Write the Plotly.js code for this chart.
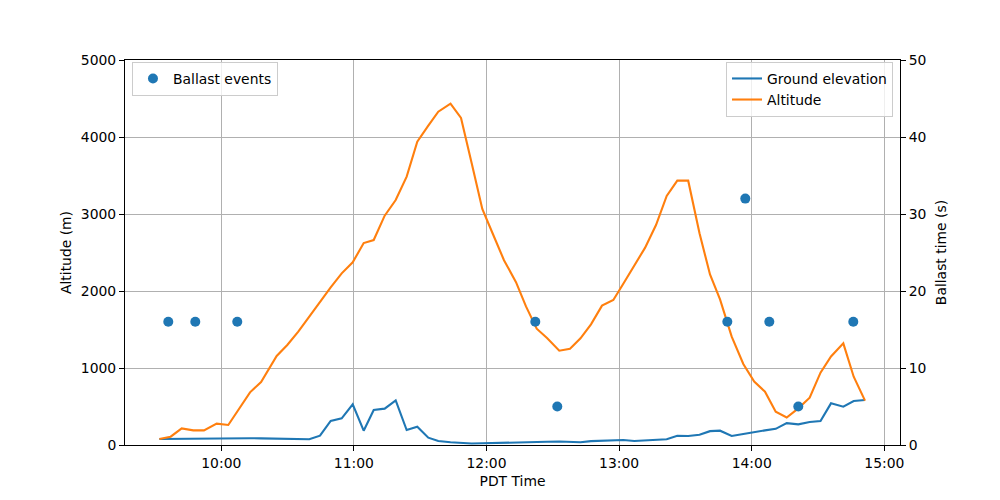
<!DOCTYPE html>
<html>
<head>
<meta charset="utf-8">
<script src="https://cdn.plot.ly/plotly-3.0.1.min.js"></script>
<style>
  html, body { margin: 0; padding: 0; background: #fff; }
  #chart { width: 1000px; height: 500px; }
</style>
</head>
<body>
<div id="chart"></div>
<script>
const day = '2023-06-10';

const times = [
    '09:32:00', '09:37:05', '09:42:05', '09:47:20', '09:52:10', '09:57:55',
    '10:03:10', '10:08:08', '10:13:00', '10:18:00', '10:25:04', '10:29:52',
    '10:34:50', '10:39:49', '10:44:40', '10:49:30', '10:54:29', '10:59:28',
    '11:04:26', '11:08:58', '11:13:56', '11:18:55', '11:23:53', '11:28:41',
    '11:33:40', '11:38:11', '11:43:43', '11:48:28', '11:53:18', '11:58:06',
    '12:03:05', '12:07:55', '12:13:21', '12:17:52', '12:22:43', '12:27:23',
    '12:32:56', '12:37:47', '12:42:32', '12:47:17', '12:52:16', '12:57:23',
    '13:01:54', '13:06:53', '13:11:43', '13:16:42', '13:21:32', '13:26:20',
    '13:31:16', '13:36:23', '13:41:08', '13:45:40', '13:50:57', '13:56:12',
    '14:01:08', '14:06:01', '14:10:52', '14:15:50', '14:21:05', '14:26:14',
    '14:31:08', '14:35:53', '14:41:27', '14:46:09', '14:51:16'
];

const groundElevation = [
    78, 80, 82, 87, 88, 88,
    90, 88, 88, 86, 82, 76,
    74, 74, 121, 312, 346, 528,
    186, 455, 472, 580, 195, 238,
    95, 52, 35, 26, 20, 22,
    24, 26, 28, 30, 35, 42,
    46, 45, 35, 50, 55, 62,
    65, 52, 62, 65, 74, 121,
    117, 132, 180, 186, 117, 143,
    170, 190, 210, 284, 268, 299,
    312, 541, 498, 571, 584
];

const altitude = [
    78, 108, 216, 190, 190, 277,
    260, 472, 684, 818, 1156, 1299,
    1472, 1667, 1861, 2048, 2229, 2372,
    2623, 2662, 2978, 3182, 3485, 3939,
    4147, 4329, 4433, 4247, 3658, 3065,
    2727, 2400, 2115, 1800, 1510, 1390,
    1225, 1251, 1385, 1567, 1810, 1883,
    2095, 2325, 2560, 2857, 3234, 3433,
    3433, 2749, 2215, 1892, 1407, 1052,
    823, 693, 433, 357, 476, 615,
    939, 1150, 1320, 887, 576
];

const ballastTimes = [
    '09:36:01', '09:48:14', '10:07:14', '12:22:05', '12:32:02',
    '13:48:58', '13:57:06', '14:07:58', '14:21:05', '14:45:58'
];
const ballastSeconds = [16, 16, 16, 16, 5, 16, 32, 16, 5, 16];

const tickHours = ['10:00', '11:00', '12:00', '13:00', '14:00', '15:00'];
const xStart = '09:16:26';
const xEnd = '15:07:06';

const stamp = t => `${day} ${t}`;

const font = {family: 'DejaVu Sans, sans-serif', size: 13.9, color: '#000'};

const traces = [
    {
        x: times.map(stamp), y: groundElevation,
        type: 'scatter', mode: 'lines', name: 'Ground elevation',
        line: {color: '#1f77b4', width: 2.1},
        legend: 'legend2'
    },
    {
        x: times.map(stamp), y: altitude,
        type: 'scatter', mode: 'lines', name: 'Altitude',
        line: {color: '#ff7f0e', width: 2.1},
        legend: 'legend2'
    },
    {
        x: ballastTimes.map(stamp), y: ballastSeconds,
        type: 'scatter', mode: 'markers', name: 'Ballast events',
        marker: {color: '#1f77b4', size: 10},
        yaxis: 'y2',
        legend: 'legend'
    }
];

const axisBase = {
    showline: true, linecolor: '#000', linewidth: 1,
    ticks: 'outside', ticklen: 5, tickwidth: 1, tickcolor: '#000',
    tickfont: font, zeroline: false
};

const layout = {
    width: 1000, height: 500,
    margin: {l: 125, r: 100, t: 60, b: 55},
    paper_bgcolor: '#fff', plot_bgcolor: '#fff',
    font: font,
    showlegend: true,
    xaxis: {
        ...axisBase,
        type: 'date', mirror: true,
        range: [stamp(xStart), stamp(xEnd)],
        tickvals: tickHours.map(stamp), ticktext: tickHours,
        showgrid: true, gridcolor: '#b0b0b0', gridwidth: 1,
        title: {text: 'PDT Time', font: font, standoff: 6}
    },
    yaxis: {
        ...axisBase,
        mirror: true,
        range: [0, 5000], dtick: 1000,
        showgrid: true, gridcolor: '#b0b0b0', gridwidth: 1,
        title: {text: 'Altitude (m)', font: font, standoff: 5}
    },
    yaxis2: {
        ...axisBase,
        overlaying: 'y', side: 'right',
        range: [0, 50], dtick: 10,
        showgrid: false,
        title: {text: 'Ballast time (s)', font: font, standoff: 10}
    },
    legend: {
        x: 0.009, y: 0.995, xanchor: 'left', yanchor: 'top',
        bgcolor: 'rgba(255,255,255,0.8)', bordercolor: '#cccccc', borderwidth: 1,
        font: font
    },
    legend2: {
        x: 0.991, y: 0.995, xanchor: 'right', yanchor: 'top',
        bgcolor: 'rgba(255,255,255,0.8)', bordercolor: '#cccccc', borderwidth: 1,
        font: font, tracegroupgap: 0
    }
};

Plotly.newPlot('chart', traces, layout, {staticPlot: true});
</script>
</body>
</html>
